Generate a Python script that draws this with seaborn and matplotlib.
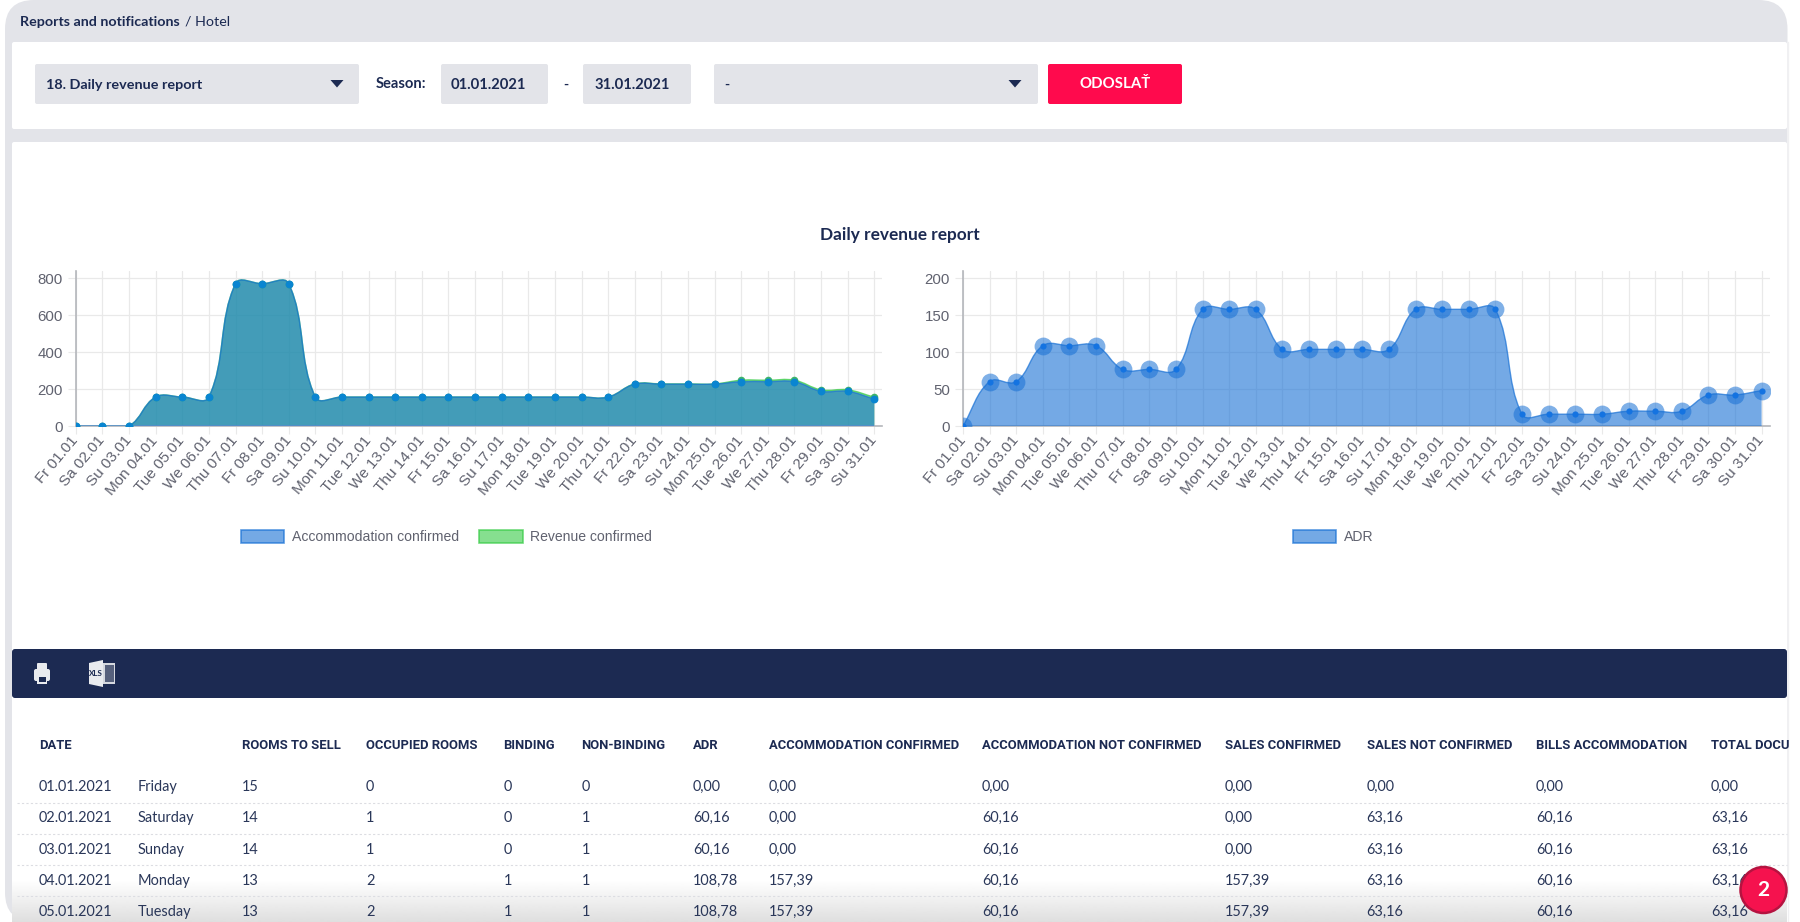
import numpy as np
import pandas as pd
import matplotlib
matplotlib.use("Agg")
import matplotlib.pyplot as plt
import seaborn as sns
from matplotlib.patches import FancyBboxPatch, Rectangle, Circle, Polygon, PathPatch, Patch
from matplotlib.path import Path

# ---------- data ----------
days = ["Fr 01.01","Sa 02.01","Su 03.01","Mon 04.01","Tue 05.01","We 06.01","Thu 07.01","Fr 08.01","Sa 09.01","Su 10.01",
        "Mon 11.01","Tue 12.01","We 13.01","Thu 14.01","Fr 15.01","Sa 16.01","Su 17.01","Mon 18.01","Tue 19.01","We 20.01",
        "Thu 21.01","Fr 22.01","Sa 23.01","Su 24.01","Mon 25.01","Tue 26.01","We 27.01","Thu 28.01","Fr 29.01","Sa 30.01","Su 31.01"]
accommodation = [0,0,0,157,157,157,771,771,771,157,157,157,157,157,157,157,157,157,157,157,157,227,227,227,227,240,240,240,188,188,146]
revenue = [0,0,0,157,157,157,771,771,771,157,157,157,157,157,157,157,157,157,157,157,157,228,228,228,228,248,248,248,196,196,156]
adr = [0,60.16,60.16,108.78,108.78,108.78,76.7,76.7,76.7,158,158,158,103.8,103.8,103.8,103.8,103.8,158,158,158,158,16,16,16,16,20,20,20,42,42,48]
left_yticks = [0,200,400,600,800]
right_yticks = [0,50,100,150,200]

table_headers = ["DATE","ROOMS TO SELL","OCCUPIED ROOMS","BINDING","NON-BINDING","ADR","ACCOMMODATION CONFIRMED",
                 "ACCOMMODATION NOT CONFIRMED","SALES CONFIRMED","SALES NOT CONFIRMED","BILLS ACCOMMODATION","TOTAL DOCU"]
table_rows = [
    ["01.01.2021","Friday","15","0","0","0","0,00","0,00","0,00","0,00","0,00","0,00","0,00"],
    ["02.01.2021","Saturday","14","1","0","1","60,16","0,00","60,16","0,00","63,16","60,16","63,16"],
    ["03.01.2021","Sunday","14","1","0","1","60,16","0,00","60,16","0,00","63,16","60,16","63,16"],
    ["04.01.2021","Monday","13","2","1","1","108,78","157,39","60,16","157,39","63,16","60,16","63,16"],
    ["05.01.2021","Tuesday","13","2","1","1","108,78","157,39","60,16","157,39","63,16","60,16","63,16"],
]

# ---------- style ----------
W, H = 1800, 922
sns.set_theme(style="white")
UI = ["Lato", "DejaVu Sans"]
HEAD = ["Roboto", "DejaVu Sans"]
CH = ["Liberation Sans", "DejaVu Sans"]
plt.rcParams["font.family"] = UI
NAVY = "#1c2a52"
GREY = "#e3e4e9"
BOX = "#e3e4e9"
TICKC = "#60626f"
GRID = "#e9e9e9"
BLUE = (23/255, 112/255, 213/255)
GREEN = (53/255, 203/255, 68/255)
RIGHT = 1787

fig = plt.figure(figsize=(W/100, H/100), dpi=100, facecolor="white")
page = fig.add_axes([0, 0, 1, 1], zorder=0)
page.set_xlim(0, W); page.set_ylim(H, 0); page.axis("off")

def rect(x0, y0, x1, y1, c, r=0, ax=page, z=1, **kw):
    if r:
        ax.add_patch(FancyBboxPatch((x0+r, y0+r), x1-x0-2*r, y1-y0-2*r,
                                    boxstyle=f"round,pad={r},rounding_size={r}", fc=c, ec="none", zorder=z, **kw))
    else:
        ax.add_patch(Rectangle((x0, y0), x1-x0, y1-y0, fc=c, ec="none", zorder=z, **kw))

def label(x, y, s, size=14, weight="normal", color=NAVY, ha="left", ax=page, z=5, family=UI):
    return ax.text(x, y, s, fontsize=size*0.72, fontweight=weight, color=color, ha=ha, va="center", zorder=z, family=family)

# shell
rect(5, 0, RIGHT+0.5, 921.5, GREY, r=29)
rect(12, 42, RIGHT, 129, "white", r=2, z=2)
rect(12, 142, RIGHT, 700, "white", r=2, z=2)
rect(12, 698, RIGHT, 921.5, "white", z=2)
rect(12, 649, RIGHT, 698, NAVY, r=3, z=3)
page.plot([RIGHT+1, RIGHT+1], [42, 922], color="#f0f0f2", lw=1, zorder=1)

# breadcrumb
label(19.5, 22, "Reports and notifications", 14.2, "bold")
label(185, 22, "/ Hotel", 14.2)

# controls
rect(35, 64, 359, 104, BOX, r=2, z=3)
rect(441, 64, 548, 104, BOX, r=2, z=3)
rect(583, 64, 691, 104, BOX, r=2, z=3)
rect(714, 64, 1038, 104, BOX, r=2, z=3)
rect(1048, 64, 1182, 104, "#ff0a4d", r=2, z=3)
label(46, 85, "18. Daily revenue report", 14.4, "bold")
label(376, 84, "Season:", 14.8, "bold")
label(451, 85, "01.01.2021", 14.8, "bold")
label(594.7, 85, "31.01.2021", 14.8, "bold")
label(566, 85, "-", 14, "bold", ha="center")
label(727, 85, "-", 14, "bold", ha="center")
label(1115, 84, "ODOSLAŤ", 15, "bold", "white", ha="center")
for ax_x in (337, 1015):
    page.add_patch(Polygon([[ax_x-6.5, 80], [ax_x+6.5, 80], [ax_x, 87.5]], fc=NAVY, ec="none", zorder=5))

# title
label(900, 234.5, "Daily revenue report", 17.3, "bold", ha="center")

# nav icons
rect(34, 669, 50, 681, "#e9ebef", r=2, z=5)
rect(37, 663, 47, 670, "#e9ebef", r=1, z=5)
rect(37, 675, 47, 684, "#e9ebef", z=5)
rect(38.5, 677, 45.5, 682, NAVY, z=6)
page.add_patch(Polygon([[89, 663], [103, 660], [103, 687], [89, 684]], fc="#e9ebef", ec="none", zorder=5))
rect(103, 663, 115, 684, "#d5d8df", z=5)
rect(104.5, 665, 113.5, 682, "#56607c", z=6)
label(96, 673, "XLS", 8, "bold", NAVY, ha="center", z=7)

# bottom fade sits under the table text
ramp = np.zeros((40, 2, 4))
ramp[..., :3] = 0.80
ramp[..., 3] = np.repeat(np.linspace(0, 0.62, 40)[:, None], 2, axis=1)
page.imshow(ramp, extent=(12, RIGHT, 921.5, 880), aspect="auto", zorder=3.5, interpolation="bilinear")
page.set_xlim(0, W); page.set_ylim(H, 0)

# table
head_x = [39, 241.7, 366, 503.4, 581.5, 693, 768.6, 982, 1225, 1366.7, 1536, 1711]
cell_x = [39, 138, 241.7, 366, 503.4, 581.5, 693, 768.6, 982, 1225, 1366.7, 1536, 1711]
row_y = [787, 818.3, 849.7, 881, 912]
for x, s in zip(head_x, table_headers):
    label(x, 745, s, 13, "bold", family=HEAD)
for y, row in zip(row_y, table_rows):
    for x, s in zip(cell_x, row):
        label(x, y, s, 14.5, "normal", "#2a3759")
for y in (802.7, 833.6, 865, 896):
    page.plot([17, RIGHT], [y, y], color="#dcdde2", lw=0.8, ls=(0, (2, 2)), zorder=4)


# ---------- charts ----------
def spline_path(xv, yv, sx, sy, tension=0.4):
    """Chart.js style bezier through data points, returned as outline vertices and codes."""
    xv = np.asarray(xv, float); yv = np.asarray(yv, float)
    n = len(xv)
    px, py = xv*sx, yv*sy
    verts = [(xv[0], yv[0])]; codes = [Path.MOVETO]
    cprev = np.zeros((n, 2)); cnext = np.zeros((n, 2))
    for i in range(n):
        a, c = max(i-1, 0), min(i+1, n-1)
        d01 = np.hypot(px[i]-px[a], py[i]-py[a]); d12 = np.hypot(px[c]-px[i], py[c]-py[i])
        tot = d01+d12 if d01+d12 > 0 else 1
        fa, fb = tension*d01/tot, tension*d12/tot
        dx, dy = px[c]-px[a], py[c]-py[a]
        cprev[i] = (px[i]-fa*dx, py[i]-fa*dy)
        cnext[i] = (px[i]+fb*dx, py[i]+fb*dy)
    for i in range(n-1):
        verts += [(cnext[i, 0]/sx, max(cnext[i, 1]/sy, 0)), (cprev[i+1, 0]/sx, max(cprev[i+1, 1]/sy, 0)), (xv[i+1], yv[i+1])]
        codes += [Path.CURVE4]*3
    return verts, codes


def area(ax, xv, yv, col, sx, sy, z):
    verts, codes = spline_path(xv, yv, sx, sy)
    fill_v = verts + [(xv[-1], 0), (xv[0], 0), verts[0]]
    fill_c = codes + [Path.LINETO, Path.LINETO, Path.CLOSEPOLY]
    ax.add_patch(PathPatch(Path(fill_v, fill_c), fc=(*col, 0.6), ec="none", zorder=z))
    ax.add_patch(PathPatch(Path(verts, codes), fc="none", ec=(*col, 0.7), lw=1.0, zorder=z+0.1))


def make_axes(left, right, x_last, yticks, y_unit_px, top=270.7, bottom=426):
    ax = fig.add_axes([left/W, 1-bottom/H, (right-left)/W, (bottom-top)/H], zorder=2)
    ax.patch.set_alpha(0)
    sx = (x_last-left)/30
    ax.set_xlim(0, (right-left)/sx)
    ax.set_ylim(0, (bottom-top)/y_unit_px)
    ax.set_xticks(range(len(days)))
    ax.set_xticklabels(days, rotation=50, ha="right", va="center", rotation_mode="anchor", fontsize=11, color=TICKC, family=CH)
    ax.set_yticks(yticks)
    ax.set_yticklabels([str(t) for t in yticks], fontsize=10.8, color=TICKC, family=CH)
    ax.tick_params(axis="both", length=5.5, width=0.8, color=GRID, left=True, bottom=True)
    ax.tick_params(axis="x", pad=3)
    ax.tick_params(axis="y", pad=4)
    ax.grid(True, color=GRID, lw=0.9)
    ax.set_axisbelow(True)
    for s in ("top", "right"):
        ax.spines[s].set_visible(False)
    for s in ("left", "bottom"):
        ax.spines[s].set_color("#b4b6bb"); ax.spines[s].set_linewidth(1.2)
    return ax, sx


idx = np.arange(len(days))

# left
axL, sxL = make_axes(75.8, 882, 874.3, left_yticks, (426-278.3)/800)
syL = (426-278.3)/800
area(axL, idx, revenue, GREEN, sxL, syL, 2)
area(axL, idx, accommodation, BLUE, sxL, syL, 3)
df_l = pd.DataFrame({"d": idx, "acc": accommodation, "rev": revenue})
sns.scatterplot(data=df_l, x="d", y="rev", ax=axL, s=30, color="#3fb56a", linewidth=0, zorder=4, legend=False)
sns.scatterplot(data=df_l, x="d", y="acc", ax=axL, s=32, color="#0a85d1", linewidth=0, zorder=5, legend=False)
axL.set_xlabel(""); axL.set_ylabel("")

# right
axR, sxR = make_axes(963, 1770, 1761.6, right_yticks, (426-278.3)/200)
syR = (426-278.3)/200
area(axR, idx, adr, BLUE, sxR, syR, 3)
df_r = pd.DataFrame({"d": idx, "adr": adr})
sns.scatterplot(data=df_r, x="d", y="adr", ax=axR, s=165, color=BLUE, alpha=0.55, linewidth=0, zorder=4, legend=False)
sns.scatterplot(data=df_r, x="d", y="adr", ax=axR, s=20, color="#1473e1", linewidth=0, zorder=5, legend=False)
axR.set_xlabel(""); axR.set_ylabel("")

# legends
def legend_patch(col, name):
    return Patch(fc=(*col, 0.6), ec=(*col, 0.7), lw=1.2, label=name)

fig.legend(handles=[legend_patch(BLUE, "Accommodation confirmed"), legend_patch(GREEN, "Revenue confirmed")],
           loc="center", bbox_to_anchor=(446.5/W, 1-537/H), ncol=2, frameon=False,
           prop={"family": CH, "size": 10.1}, labelcolor=TICKC,
           handlelength=3.1, handleheight=1.05, handletextpad=0.55, columnspacing=1.45)
fig.legend(handles=[legend_patch(BLUE, "ADR")],
           loc="center", bbox_to_anchor=(1333/W, 1-537/H), ncol=1, frameon=False,
           prop={"family": CH, "size": 10.1}, labelcolor=TICKC,
           handlelength=3.1, handleheight=1.05, handletextpad=0.55)

# badge on top
over = fig.add_axes([0, 0, 1, 1], zorder=5)
over.set_xlim(0, W); over.set_ylim(H, 0); over.axis("off"); over.patch.set_alpha(0)
over.add_patch(Circle((1763.5, 890), 23, fc="#f5124e", ec="#b51340", lw=1.8, zorder=3))
label(1763.5, 890, "2", 21, "bold", "white", ha="center", ax=over, z=4)

fig.savefig("out.png", dpi=100, facecolor="white")
